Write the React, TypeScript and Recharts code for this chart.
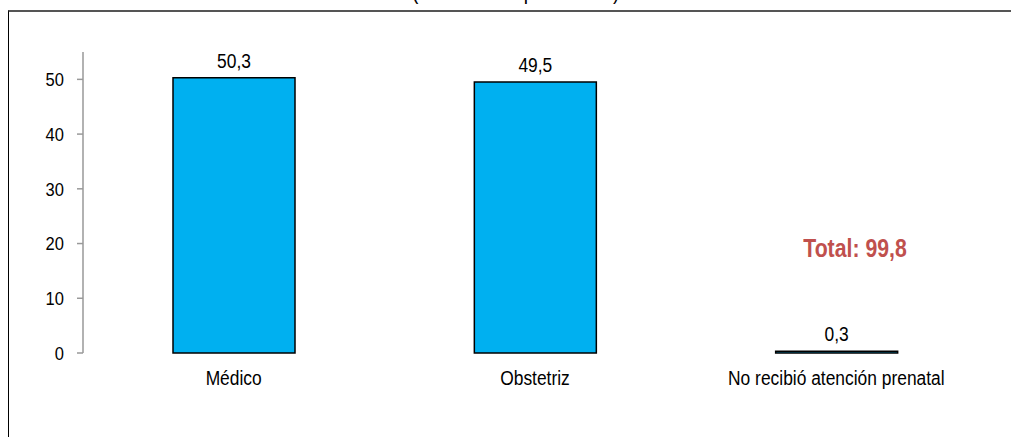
import React from "react";
import { BarChart, Bar, XAxis, YAxis, LabelList } from "recharts";

const categories = ["Médico", "Obstetriz", "No recibió atención prenatal"];
const values = [50.3, 49.5, 0.3];
const yTicks = [0, 10, 20, 30, 40, 50];
const boundaryTicks = [0, 1, 2, 3];
const totalLabel = "Total: 99,8";
const subtitle = "(Distribución porcentual)";

// no narrow font installed, so squeeze Liberation Sans horizontally
const FONT = "'Liberation Sans', Arial, sans-serif";
const SQUEEZE = 0.87;

const data = categories.map((name, i) => ({ name, value: values[i], pos: i + 0.5 }));

const fmt = (v: unknown) => String(v).replace(".", ",");

function NarrowText({ x, y, text, size, anchor, dy }: any) {
  return (
    <text
      transform={`translate(${x},${y}) scale(${SQUEEZE},1)`}
      textAnchor={anchor}
      dy={dy}
      fontSize={size}
      fontFamily={FONT}
      fill="#000"
    >
      {text}
    </text>
  );
}

const EmptyTick = () => <g />;

const CatTick = (p: any) => (
  <NarrowText x={p.x} y={p.y} text={p.payload.value} size={20} anchor="middle" dy="0.71em" />
);

const ValueTick = (p: any) => (
  <NarrowText x={p.x} y={p.y} text={p.payload.value} size={19} anchor="end" dy="0.355em" />
);

const BarValue = (p: any) => (
  <NarrowText
    x={Number(p.x) + Number(p.width) / 2}
    y={Number(p.y) - 10}
    text={fmt(p.value)}
    size={20}
    anchor="middle"
  />
);

export default function App() {
  return (
    <div
      style={{
        position: "relative",
        width: 1011,
        height: 437,
        overflow: "hidden",
        fontFamily: FONT,
        background: "#fff",
      }}
    >
      <style>{`html,body{margin:0;padding:0;overflow:hidden}`}</style>
      <div
        style={{
          position: "absolute",
          top: -20,
          left: 412,
          fontSize: 22,
          lineHeight: "24px",
          color: "#000",
          whiteSpace: "nowrap",
          transform: `scaleX(${SQUEEZE})`,
          transformOrigin: "left center",
        }}
      >
        {subtitle}
      </div>
      <div
        style={{
          position: "absolute",
          top: 10,
          left: 8,
          width: 1020,
          height: 440,
          borderTop: "2px solid #555",
          borderLeft: "1.5px solid #000",
          boxSizing: "border-box",
        }}
      />
      <div style={{ position: "absolute", top: 8, left: 8 }}>
        <BarChart
          width={1003}
          height={429}
          data={data}
          margin={{ top: 44, right: 24, bottom: 0, left: 0 }}
          barSize={122}
        >
          <XAxis
            xAxisId="edges"
            type="number"
            dataKey="pos"
            domain={[0, 3]}
            ticks={boundaryTicks}
            height={0}
            tick={EmptyTick}
            tickSize={7}
            stroke="#999"
            strokeWidth={1.5}
          />
          <XAxis
            xAxisId="cat"
            dataKey="name"
            height={84}
            axisLine={false}
            tickLine={false}
            tickSize={6}
            tickMargin={12}
            tick={CatTick}
          />
          <YAxis
            width={75}
            domain={[0, 55]}
            ticks={yTicks}
            tickSize={6}
            tickMargin={13}
            stroke="#999"
            strokeWidth={1.5}
            tick={ValueTick}
          />
          <Bar
            xAxisId="cat"
            dataKey="value"
            fill="#00B0F0"
            stroke="#000"
            strokeWidth={1.5}
            isAnimationActive={false}
          >
            <LabelList dataKey="value" content={BarValue} />
          </Bar>
        </BarChart>
      </div>
      <div
        style={{
          position: "absolute",
          top: 234,
          left: 755,
          width: 200,
          textAlign: "center",
          fontSize: 25,
          fontWeight: "bold",
          color: "#C0504D",
          whiteSpace: "nowrap",
          transform: "scaleX(0.85)",
        }}
      >
        {totalLabel}
      </div>
    </div>
  );
}
